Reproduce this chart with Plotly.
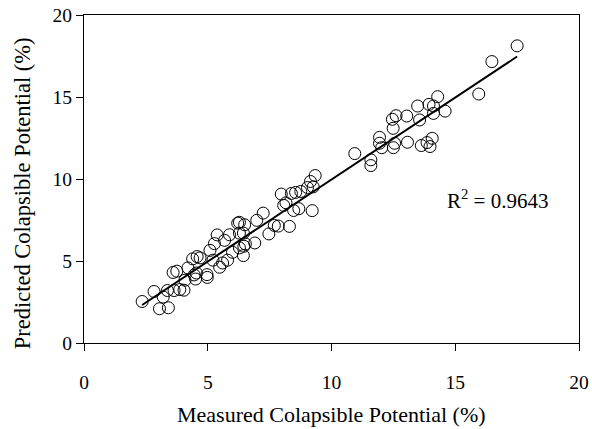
import numpy as np
import plotly.graph_objects as go

measured = [2.35, 2.83, 3.05, 3.2, 3.41, 3.37, 3.6, 3.75, 3.64, 3.87, 4.04, 4.08, 4.2, 4.39,
            4.45, 4.51, 4.57, 4.69, 4.54, 4.97, 4.98, 5.09, 5.21, 5.27, 5.38, 5.48, 5.6, 5.68,
            5.8, 5.88, 6.0, 6.21, 6.28, 6.28, 6.28, 6.44, 6.46, 6.44, 6.49, 6.52, 6.9, 6.98,
            7.24, 7.47, 7.69, 7.85, 7.97, 8.07, 8.16, 8.3, 8.38, 8.47, 8.55, 8.68, 8.76, 9.03,
            9.15, 9.22, 9.26, 9.34, 10.94, 11.59, 11.59, 11.94, 11.94, 12.03, 12.46, 12.49,
            12.5, 12.55, 12.61, 13.04, 13.07, 13.48, 13.56, 13.63, 13.86, 13.94, 13.98, 14.07,
            14.12, 14.12, 14.29, 14.59, 15.95, 16.48, 17.5]
predicted = [2.53, 3.14, 2.09, 2.8, 2.15, 3.2, 4.3, 4.38, 3.2, 3.26, 3.22, 3.83, 4.58, 5.13,
             4.15, 3.9, 5.27, 5.19, 4.27, 4.17, 4.0, 5.65, 5.05, 6.06, 6.59, 4.62, 4.88, 6.26,
             5.05, 6.6, 5.53, 7.31, 7.36, 5.8, 6.7, 6.7, 5.9, 5.33, 7.21, 6.04, 6.1, 7.48,
             7.92, 6.65, 7.17, 7.13, 9.08, 8.39, 8.55, 7.11, 9.12, 8.08, 9.18, 8.19, 9.24, 9.48,
             9.85, 8.07, 9.52, 10.21, 11.55, 11.17, 10.82, 12.54, 12.18, 11.91, 13.64, 13.09,
             11.91, 12.18, 13.86, 13.84, 12.24, 14.45, 13.6, 12.04, 12.22, 14.55, 11.98, 12.48,
             14.45, 14.0, 15.02, 14.14, 15.18, 17.16, 18.12]
r2_text = "R<sup>2</sup> = 0.9643"
x_title = "Measured Colapsible Potential (%)"
y_title = "Predicted Colapsible Potential (%)"
axis_ticks = [0, 5, 10, 15, 20]

slope, intercept = np.polyfit(measured, predicted, 1)
xfit = [min(measured), max(measured)]
yfit = [slope * v + intercept for v in xfit]

font_family = "Liberation Serif"

fig = go.Figure()
fig.add_trace(go.Scatter(
    x=measured, y=predicted, mode="markers",
    marker=dict(symbol="circle-open", size=12, color="black", line=dict(width=1, color="black")),
    showlegend=False, hoverinfo="skip", cliponaxis=False))
fig.add_trace(go.Scatter(
    x=xfit, y=yfit, mode="lines", line=dict(color="black", width=2),
    showlegend=False, hoverinfo="skip"))

fig.add_annotation(x=14.59, y=8.75, xref="x", yref="y", text=r2_text, showarrow=False,
                   xanchor="left", yanchor="middle",
                   font=dict(family=font_family, size=21, color="black"))
fig.add_annotation(x=0.5, y=-0.2195, xref="paper", yref="paper", text=x_title,
                   showarrow=False, xanchor="center", yanchor="middle",
                   font=dict(family=font_family, size=22, color="black"))
fig.add_annotation(x=-0.125, y=0.457, xref="paper", yref="paper", text=y_title,
                   showarrow=False, xanchor="center", yanchor="middle", textangle=-90,
                   font=dict(family=font_family, size=22.5, color="black"))

axis_common = dict(
    range=[0, 20], tickvals=axis_ticks, ticks="outside", ticklen=7, tickwidth=1,
    tickcolor="black", showline=True, linecolor="black", linewidth=1, mirror=True,
    showgrid=False, zeroline=False, automargin=False, ticklabeloverflow="allow",
    tickfont=dict(family=font_family, size=19.5, color="black"),
)
fig.update_xaxes(**axis_common, ticklabelstandoff=15)
fig.update_yaxes(**axis_common)

fig.update_layout(
    width=592, height=429,
    margin=dict(l=84, r=13, t=15, b=86),
    paper_bgcolor="white", plot_bgcolor="white",
    font=dict(family=font_family, color="black"),
)

fig.write_html("out.html", config={"displayModeBar": False},
               post_script="document.body.style.margin='0';document.body.style.overflow='hidden';")
